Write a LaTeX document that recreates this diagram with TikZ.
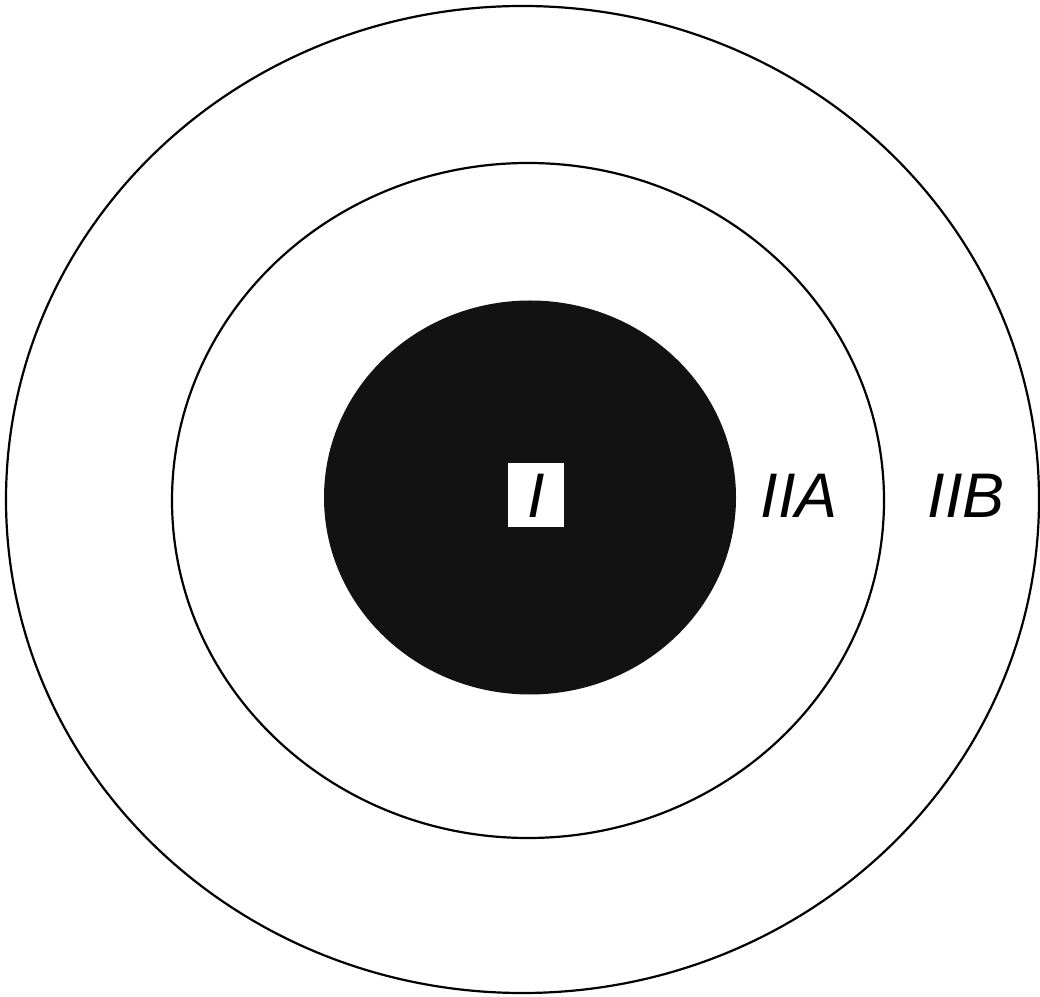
\documentclass[tikz,border=0pt]{standalone}
\usepackage{fontspec}
\setmainfont{Liberation Sans}
\begin{document}
\begin{tikzpicture}[x=1pt,y=1pt,
  ring/.style={draw=black,line width=2.2pt},
  lab/.style={font=\fontsize{63}{63}\selectfont\itshape,inner sep=0pt,anchor=center}]
\useasboundingbox (0,0) rectangle (1040,996);
\fill[white] (0,0) rectangle (1040,996);
\draw[ring] (522.5,496.5) ellipse [x radius=516.5, y radius=493.5];
\draw[ring] (528,495.5) ellipse [x radius=356, y radius=337.5];
\fill[black!93] (530,498.5) ellipse [x radius=206, y radius=197];
\node[fill=white,minimum width=56pt,minimum height=64pt,inner sep=0pt] (boxI) at (536,501) {};
\node[lab] (I) at (536,500) {I};
\node[lab] (IIA) at (799,500) {IIA};
\node[lab] (IIB) at (966,500) {IIB};
\end{tikzpicture}
\end{document}
